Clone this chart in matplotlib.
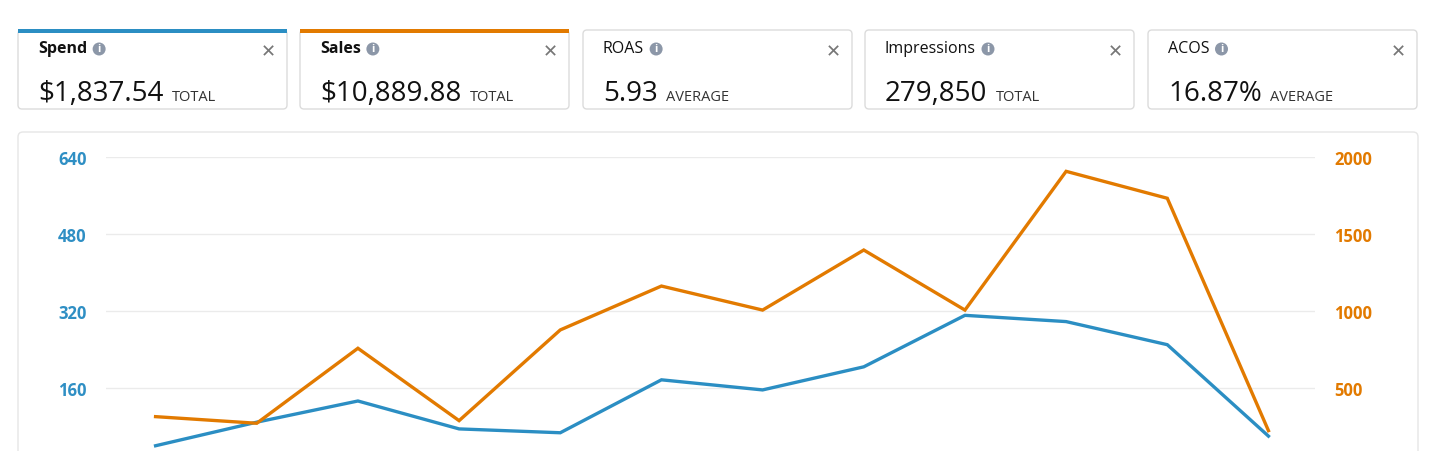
import matplotlib
matplotlib.use("Agg")
import matplotlib.pyplot as plt
from matplotlib.patches import FancyBboxPatch, Circle
from matplotlib.transforms import IdentityTransform

W, H = 1429, 452

# card data
card_titles = ["Spend", "Sales", "ROAS", "Impressions", "ACOS"]
card_values = ["$1,837.54", "$10,889.88", "5.93", "279,850", "16.87%"]
card_kinds = ["TOTAL", "TOTAL", "AVERAGE", "TOTAL", "AVERAGE"]

# series
spend = [40, 89, 133, 75, 67, 177, 156, 204, 311, 298, 250, 60]
sales = [314, 271, 758, 288, 877, 1162, 1006, 1396, 1006, 1907, 1732, 223]
left_ticks = [160, 320, 480, 640]
right_ticks = [500, 1000, 1500, 2000]

BLUE = "#2b8ec3"
ORANGE = "#e27a00"
BLUE_TXT = "#2f8fc4"
ORANGE_TXT = "#e27a00"

plt.rcParams['font.family'] = ['Open Sans', 'DejaVu Sans']

fig = plt.figure(figsize=(W / 100, H / 100), dpi=100)
fig.patch.set_facecolor("white")
ident = IdentityTransform()


def box(x0, y0, x1, y1, ec="#dcdcdc", fc="white", lw=1.0, r=4, z=1):
    # pixel coords from top-left
    p = FancyBboxPatch((x0, H - y1), x1 - x0, y1 - y0,
                       boxstyle="round,pad=0,rounding_size=%d" % r,
                       ec=ec, fc=fc, lw=lw, transform=ident, zorder=z)
    fig.patches.append(p)
    return p


def txt(x, y, s, **kw):
    return fig.text(x, H - y, s, transform=ident, **kw)


# chart panel
box(18, 133, 1418, 470, ec="#e6e6e6", r=5)

renderer = fig.canvas.get_renderer()
card_x = [18, 300, 583, 865, 1148]
card_w = 269
top_colors = [BLUE, ORANGE, None, None, None]
for i in range(5):
    x0 = card_x[i]
    x1 = x0 + card_w
    box(x0, 31, x1, 110, ec="#dcdcdc", r=4, z=2)
    if top_colors[i]:
        fig.patches.append(FancyBboxPatch((x0, H - 34), card_w, 4,
                                          boxstyle="square,pad=0",
                                          ec="none", fc=top_colors[i],
                                          transform=ident, zorder=3))
    bold = i < 2
    t = txt(x0 + 20, 49, card_titles[i], fontsize=11.5,
            fontweight="bold" if bold else "normal", color="#111111",
            va="center", ha="left", zorder=4)
    bb = t.get_window_extent(renderer)
    cx = bb.x1 + 12
    fig.patches.append(Circle((cx, H - 50), 6.5, fc="#8c97a8", ec="none",
                              transform=ident, zorder=4))
    txt(cx, 50, "i", fontsize=8, fontweight="bold", color="white",
        ha="center", va="center", zorder=5)
    txt(x1 - 19, 52, "\u2715", fontsize=13, color="#777777",
        ha="center", va="center", family=["DejaVu Sans"], zorder=4)
    v = txt(x0 + 20, 101, card_values[i], fontsize=20, color="#111111",
            ha="left", va="baseline", zorder=4)
    vb = v.get_window_extent(renderer)
    txt(vb.x1 + 8, 101, card_kinds[i], fontsize=10.5, color="#333333",
        ha="left", va="baseline", zorder=4)

# main axes: x 106..1315 px, y value 0 at 466 px, 640 at 158 px
ax = fig.add_axes([106 / W, (H - 466) / H, (1315 - 106) / W, (466 - 158) / H])
ax.set_facecolor("none")
ax2 = ax.twinx()
ax.set_zorder(5)
ax2.set_zorder(6)
ax2.patch.set_visible(False)

x = list(range(len(spend)))
ax.plot(x, spend, color=BLUE, lw=2.4, solid_joinstyle="miter", zorder=3)
ax2.plot(x, sales, color=ORANGE, lw=2.4, solid_joinstyle="miter", zorder=3)

ax.set_xlim(-0.49, 11.46)
ax.set_ylim(0, 640)
ax2.set_ylim(0, 2000)

ax.set_yticks(left_ticks)
ax2.set_yticks(right_ticks)
ax.set_xticks([])
ax.grid(axis="y", color="#ebebeb", lw=1.0)
ax.set_axisbelow(True)

for a in (ax, ax2):
    for s in a.spines.values():
        s.set_visible(False)

ax.tick_params(axis="y", length=0, pad=14, labelsize=12, labelcolor=BLUE_TXT)
ax2.tick_params(axis="y", length=0, pad=14, labelsize=12, labelcolor=ORANGE_TXT)
for lab in ax.get_yticklabels() + ax2.get_yticklabels():
    lab.set_fontweight("bold")

fig.savefig("out.png", dpi=100)
